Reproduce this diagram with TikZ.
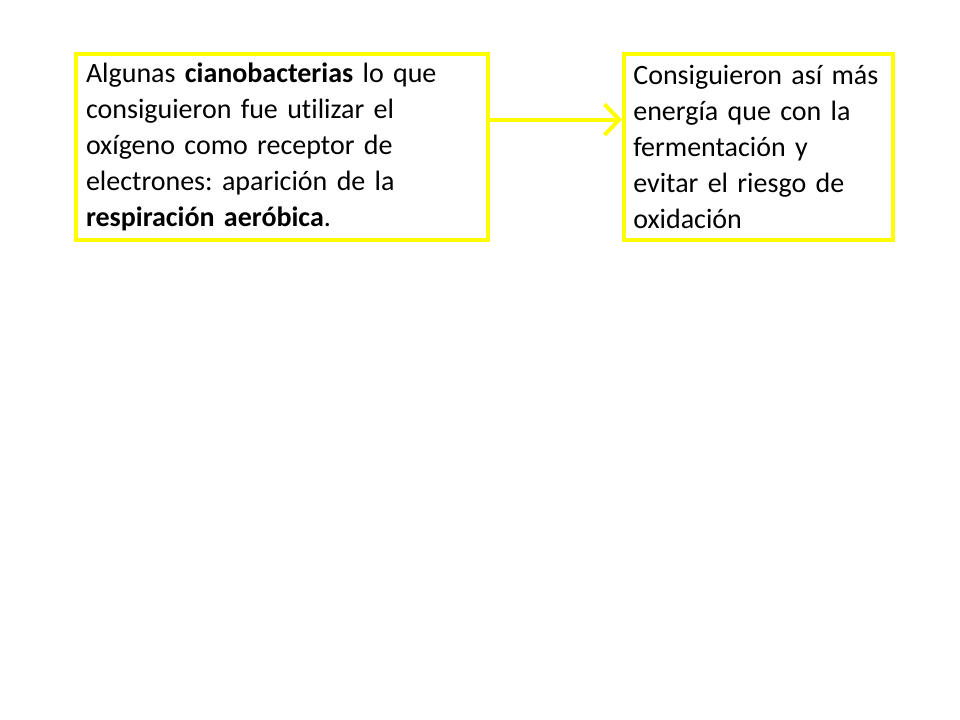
\documentclass[tikz,border=0pt]{standalone}
\usepackage{fontspec}
\setmainfont{Carlito}[Ligatures={NoCommon}]
\usetikzlibrary{arrows.meta}
\definecolor{boxyellow}{RGB}{255,255,0}
\frenchspacing
\tikzset{
  textbox/.style={draw=boxyellow, line width=3pt, rectangle, inner xsep=7pt,
    align=left, font=\fontsize{21pt}{27pt}\selectfont, anchor=north west},
  link/.style={draw=boxyellow, line width=3pt, line cap=round,
    -{Straight Barb[length=11pt,width=23pt]}}
}
\begin{document}
\begin{tikzpicture}[x=0.75pt,y=-0.75pt]
		\useasboundingbox (0,0) rectangle (960,720);
		\node[textbox, minimum width=309pt, minimum height=139.5pt, text width=294pt] (resp) at (74,52)
		{Algunas \textbf{cianobacterias} lo que\\
		consiguieron fue utilizar el\\
		oxígeno como receptor de\\
		electrones: aparición de la\\
		\textbf{respiración aeróbica}.};
		\node[textbox, minimum width=202pt, minimum height=139.5pt, text width=188pt] (ener) at (622,52)
		{Consiguieron así más\\
		energía que con la\\
		fermentación y\\
		evitar el riesgo de\\
		oxidación};
		\draw[link] ([yshift=20.5pt]resp.east) -- ([yshift=20.5pt]ener.west);
		\end{tikzpicture}
\end{document}
